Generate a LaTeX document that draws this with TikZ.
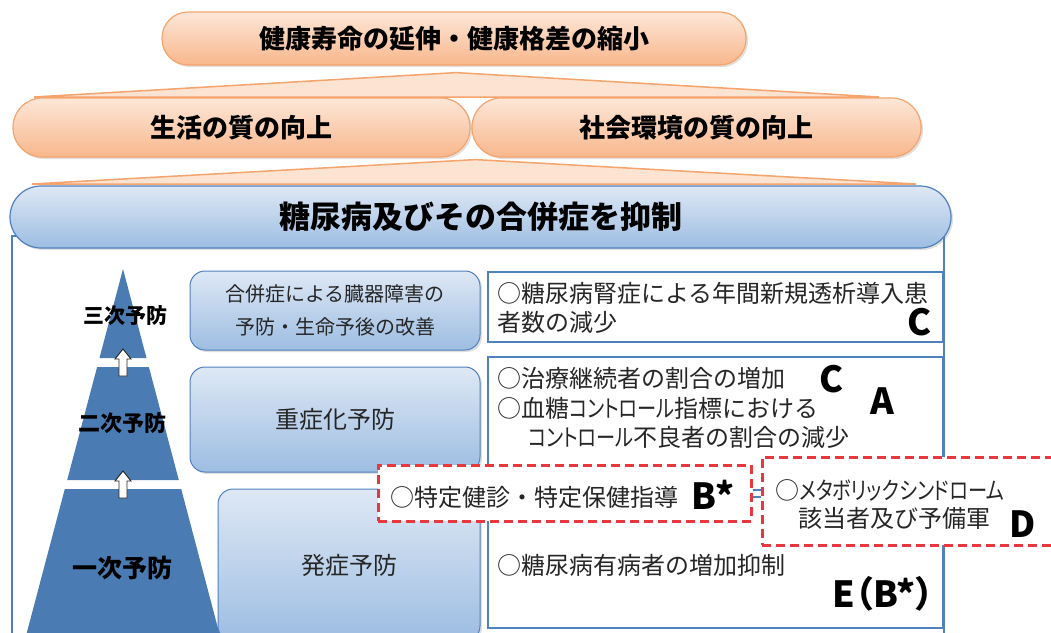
\documentclass[tikz,border=0pt]{standalone}
\usepackage{fontspec}
\setmainfont{Noto Sans CJK JP}
\newfontfamily\jpprop{Noto Sans CJK JP}[RawFeature=+palt]
\newcommand{\narrowkana}[1]{\scalebox{0.8}[1]{\jpprop #1}}
\usetikzlibrary{positioning,shadows,backgrounds}

\definecolor{orgline}{HTML}{F4A46C}
\definecolor{orgtop}{HTML}{FDE7D8}
\definecolor{orgbot}{HTML}{F8B78C}
\definecolor{orgfan}{HTML}{FCE3D2}
\definecolor{blueline}{HTML}{4F81BD}
\definecolor{bluetop}{HTML}{DEE8F5}
\definecolor{bluebot}{HTML}{9DBDE2}
\definecolor{pyr}{HTML}{4A7BB2}
\definecolor{reddash}{HTML}{E8383D}
\definecolor{txt}{HTML}{262626}

\begin{document}
\begin{tikzpicture}[x=1pt,y=-1pt,
  pill/.style={draw=orgline,line width=1.2pt,top color=orgtop,bottom color=orgbot,
    font=\bfseries\fontsize{26}{30}\selectfont,inner sep=0pt,
    drop shadow={opacity=0.25,shadow xshift=2pt,shadow yshift=-2pt}},
  bpill/.style={pill,draw=blueline,top color=bluetop,bottom color=bluebot,
    font=\bfseries\fontsize{31}{34}\selectfont},
  fan/.style={draw=orgline,line width=1.5pt,fill=orgfan},
  frame/.style={draw=blueline,line width=2.5pt},
  tier/.style={font=\bfseries\fontsize{21}{21}\selectfont,inner sep=0pt},
  uparrow/.style={draw=txt,fill=white,line width=0.9pt,line join=miter},
  mid/.style={draw=blueline,line width=1pt,top color=bluetop,bottom color=bluebot,
    rounded corners=15pt,text=txt,align=center,inner sep=0pt,
    font=\fontsize{24}{24}\selectfont,
    drop shadow={opacity=0.25,shadow xshift=2pt,shadow yshift=-2pt}},
  res/.style={draw=blueline,line width=2.5pt,fill=white,inner sep=0pt},
  item/.style={anchor=west,inner sep=0pt,text=txt,font=\fontsize{24}{24}\selectfont},
  grade/.style={inner sep=0pt,font=\bfseries\fontsize{36}{36}\selectfont},
  dashbox/.style={draw=reddash,line width=3pt,dash pattern=on 9pt off 5pt,fill=white,inner sep=0pt},
  link/.style={draw=blueline,line width=2pt,double=white,double distance=5pt}]
  \useasboundingbox (0,0) rectangle (1051,632);

  % goals
  \node[pill,minimum width=584pt,minimum height=53pt,rounded corners=26pt] (goal) at (454,38.5) {健康寿命の延伸・健康格差の縮小};
  \node[pill,minimum width=457pt,minimum height=59pt,rounded corners=29pt] (life) at (241.5,127.5) {生活の質の向上};
  \node[pill,minimum width=449pt,minimum height=59pt,rounded corners=29pt] (soc) at (696.5,127.5) {社会環境の質の向上};
  \node[bpill,minimum width=941pt,minimum height=62pt,rounded corners=31pt] (dm) at (480.5,217) {糖尿病及びその合併症を抑制};

  \begin{scope}[on background layer]
    \draw[fan] ([xshift=2pt,yshift=-7pt]goal.south) -- (34,97) -- (879,97) -- cycle;
    \draw[fan] ([xshift=4pt,yshift=-2pt]soc.south west) -- (32,184) -- (916,184) -- cycle;
    \draw[frame] (12,236) rectangle (944,660);
  \end{scope}

  % pyramid
  \fill[pyr] (123,269) -- (146.5,358) -- (99.5,358) -- cycle;
  \fill[pyr] (97.1,367) -- (148.9,367) -- (178.8,480) -- (67.2,480) -- cycle;
  \fill[pyr] (64.8,489) -- (181.2,489) -- (221.1,640) -- (24.9,640) -- cycle;
  \foreach \y in {376,498}
    \draw[uparrow] (123,\y) ++(-4,0) -- ++(0,-17) -- ++(-4,0) -- ++(8,-10) -- ++(8,10) -- ++(-4,0) -- ++(0,17) -- cycle;
  \node[tier] (lv3) at (125,316) {三次予防};
  \node[tier,font=\bfseries\fontsize{22}{22}\selectfont] (lv2) at (122,423) {二次予防};
  \node[tier,font=\bfseries\fontsize{25}{25}\selectfont] (lv1) at (122,568) {一次予防};

  % measures
  \node[mid,minimum width=290pt,minimum height=79pt,font=\fontsize{20}{33}\selectfont] (m3) at (335,310.5) {合併症による臓器障害の\\予防・生命予後の改善};
  \node[mid,minimum width=290pt,minimum height=105pt] (m2) at (335,419.5) {重症化予防};
  \node[mid,minimum width=262pt,minimum height=152pt] (m1) at (349,565) {発症予防};

  % targets
  \node[res,minimum width=455pt,minimum height=70pt] (r3) at (715.5,307) {};
  \node[res,minimum width=455pt,minimum height=271pt] (r12) at (715.5,492.5) {};
  \node[item] (t3a) at (497,293) {○糖尿病腎症による年間新規透析導入患};
  \node[item] (t3b) at (497,322) {者数の減少};
  \node[grade] (g3) at (919,322) {C};
  \node[item] (t2a) at (497,378) {○治療継続者の割合の増加};
  \node[grade] (g2c) at (831,379) {C};
  \node[item] (t2b) at (497,408) {○血糖\narrowkana{コントロール}指標における};
  \node[grade] (g2a) at (882,401) {A};
  \node[item] (t2c) at (528,437) {\narrowkana{コントロール}不良者の割合の減少};
  \node[item] (t1) at (497,565) {○糖尿病有病者の増加抑制};
  \node[grade,anchor=east] (g1) at (934,594) {\jpprop E（B*）};

  % checkups
  \node[dashbox,minimum width=373pt,minimum height=56pt] (chk) at (564.5,493) {};
  \node[item] (tchk) at (390,497) {○特定健診・特定保健指導};
  \node[grade] (gchk) at (713,495) {B*};
  \node[dashbox,minimum width=298pt,minimum height=88pt] (mets) at (911,501) {};
  \node[item] (tm1) at (775,490) {○\narrowkana{メタボリックシンドローム}};
  \node[item] (tm2) at (798,518) {該当者及び予備軍};
  \node[grade] (gm) at (1023,524) {D};
  \draw[link] (chk.east) -- (chk.east -| mets.west);
\end{tikzpicture}
\end{document}
